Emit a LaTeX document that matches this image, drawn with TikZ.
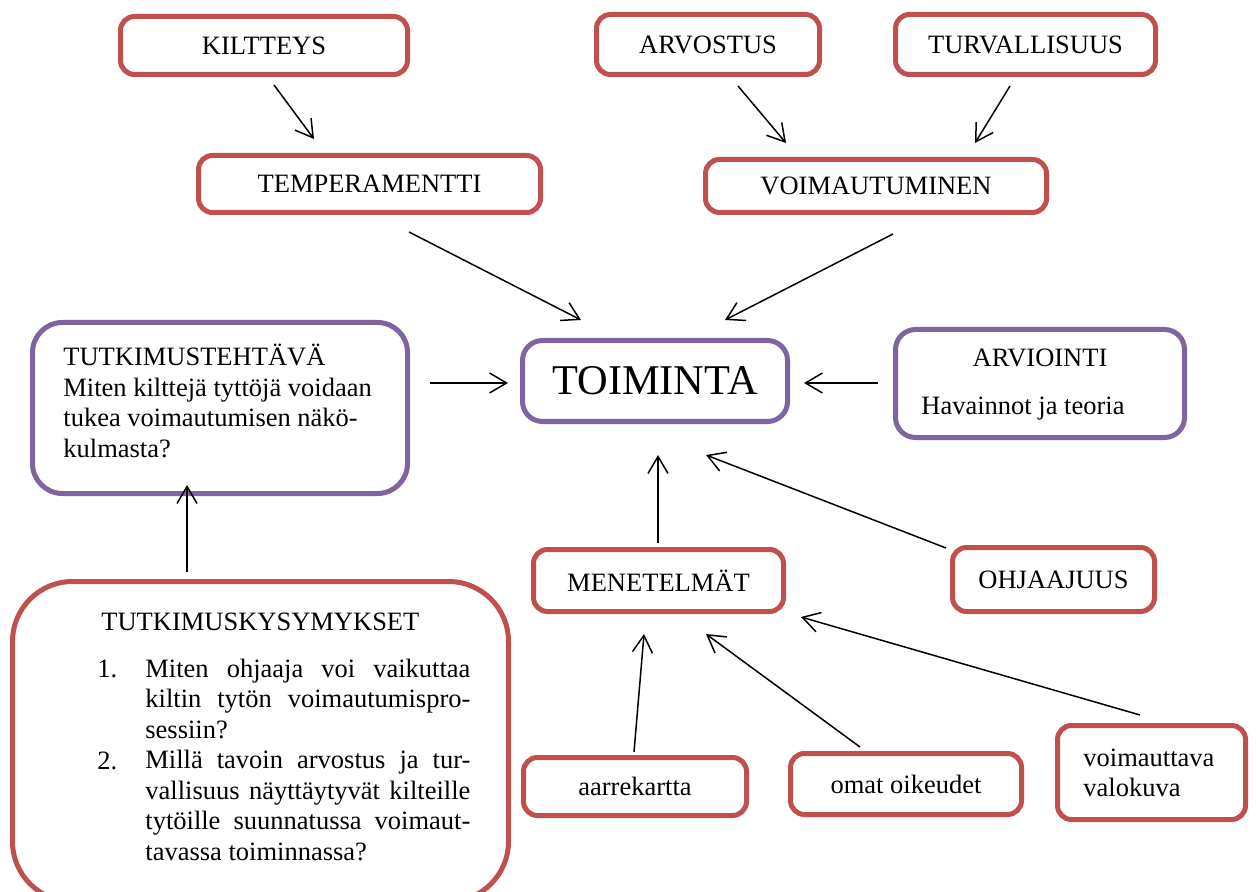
\documentclass[tikz,border=0pt]{standalone}
\usepackage{fontspec}
\setmainfont{Liberation Serif}
\usetikzlibrary{arrows.meta}
\definecolor{boxred}{HTML}{C0504D}
\definecolor{boxpurple}{HTML}{8064A2}
\begin{document}
\begin{tikzpicture}[x=0.5pt,y=-0.5pt,
  every node/.style={font=\fontsize{13.25}{15.25}\selectfont, inner sep=0pt},
  rbox/.style={draw=boxred, line width=2.5pt, rounded corners=7pt, fill=white},
  pbox/.style={draw=boxpurple, line width=2.5pt, rounded corners=10pt, fill=white},
  arr/.style={-{Straight Barb[length=8.5pt,width=10pt,line width=0.75pt]}, line width=0.75pt},
  txt/.style={anchor=base west}]
\useasboundingbox (0,0) rectangle (1256,892);
\clip (0,0) rectangle (1256,892);
\fill[white] (0,0) rectangle (1256,892);

% top boxes
\node[rbox, minimum width=143.5pt, minimum height=29pt] (kil) at (264,45.5) {KILTTEYS};
\node[rbox, minimum width=111.5pt, minimum height=30pt] (arv) at (708,44.5) {ARVOSTUS};
\node[rbox, minimum width=130pt, minimum height=30pt] (tur) at (1025.5,44.5) {TURVALLISUUS};
\node[rbox, minimum width=171pt, minimum height=28.5pt] (tem) at (369.5,184) {TEMPERAMENTTI};
\node[rbox, minimum width=170.5pt, minimum height=26.5pt] (voi) at (876,186) {\raisebox{-2pt}{VOIMAUTUMINEN}};

% middle row
\node[pbox, rounded corners=15pt, minimum width=187.5pt, minimum height=85.5pt] (teh) at (220,408) {};
\node[txt] (tehtxt) at (63,366) {\parbox[t]{180pt}{\raggedright TUTKIMUSTEHTÄVÄ\\Miten kilttejä tyttöjä voidaan\\tukea voimautumisen näkö-\\kulmasta?}};
\node[pbox, minimum width=132.5pt, minimum height=40.5pt, font=\fontsize{21.2}{24}\selectfont] (toi) at (655,381) {TOIMINTA};
\node[pbox, minimum width=144.5pt, minimum height=54pt] (arvi) at (1040,383.5) {};
\node[anchor=base] (arvitxt) at (1040,367) {ARVIOINTI};
\node[anchor=base west] (havtxt) at (921,415) {Havainnot ja teoria};

% lower
\node[rbox, minimum width=125pt, minimum height=31pt] (men) at (658.5,580.5) {MENETELMÄT};
\node[rbox, minimum width=101pt, minimum height=32pt] (ohj) at (1053.5,579.5) {OHJAAJUUS};
\node[rbox, rounded corners=30pt, minimum width=248pt, minimum height=160pt] (kys) at (260.5,741.5) {};
\node[anchor=base west] (kystit) at (101,630) {TUTKIMUSKYSYMYKSET};
\node[anchor=base west] (n1) at (97,677) {1.};
\node[anchor=base west] (n2) at (97,769) {2.};
\node[txt] (kystxt) at (145,677) {\parbox[t]{162.5pt}{\makebox[162.5pt][s]{Miten ohjaaja voi vaikuttaa}\\
\makebox[162.5pt][s]{kiltin tytön voimautumispro-}\\
sessiin?\\
\makebox[162.5pt][s]{Millä tavoin arvostus ja tur-}\\
\makebox[162.5pt][s]{vallisuus näyttäytyvät kilteille}\\
\makebox[162.5pt][s]{tytöille suunnatussa voimaut-}\\
tavassa toiminnassa?}};

\node[rbox, minimum width=111.5pt, minimum height=29pt] (aar) at (635,786.5) {aarrekartta};
\node[rbox, minimum width=115.5pt, minimum height=30.5pt] (oma) at (906,784) {omat oikeudet};
\node[rbox, minimum width=94pt, minimum height=47pt] (val) at (1151.5,772.5) {};
\node[txt] (valtxt) at (1083,766) {\parbox[t]{80pt}{\raggedright voimauttava\\valokuva}};

% arrow end points
\coordinate (a1s) at (274,85);   \coordinate (a1e) at (314,139);
\coordinate (a2s) at (738,86);   \coordinate (a2e) at (786,143);
\coordinate (a3s) at (1010,86);  \coordinate (a3e) at (975,143);
\coordinate (a4s) at (409,232);  \coordinate (a4e) at (581,320);
\coordinate (a5s) at (893,234);  \coordinate (a5e) at (725,320);
\coordinate (a6s) at (430,383);  \coordinate (a6e) at (508,383);
\coordinate (a7s) at (878,383);  \coordinate (a7e) at (804,383);
\coordinate (a8s) at (658,543);  \coordinate (a8e) at (658,455);
\coordinate (a9s) at (946,548);  \coordinate (a9e) at (706,455);
\coordinate (a10s) at (634,752); \coordinate (a10e) at (644,634);
\coordinate (a11s) at (860,747); \coordinate (a11e) at (706,634);
\coordinate (a12s) at (1140,715); \coordinate (a12e) at (801,617);
\coordinate (a13s) at (187,572); \coordinate (a13e) at (187,485);

\draw[arr] (a1s) -- (a1e);
\draw[arr] (a2s) -- (a2e);
\draw[arr] (a3s) -- (a3e);
\draw[arr] (a4s) -- (a4e);
\draw[arr] (a5s) -- (a5e);
\draw[arr] (a6s) -- (a6e);
\draw[arr] (a7s) -- (a7e);
\draw[arr] (a8s) -- (a8e);
\draw[arr] (a9s) -- (a9e);
\draw[arr] (a10s) -- (a10e);
\draw[arr] (a11s) -- (a11e);
\draw[arr] (a12s) -- (a12e);
\draw[arr] (a13s) -- (a13e);
\end{tikzpicture}
\end{document}
